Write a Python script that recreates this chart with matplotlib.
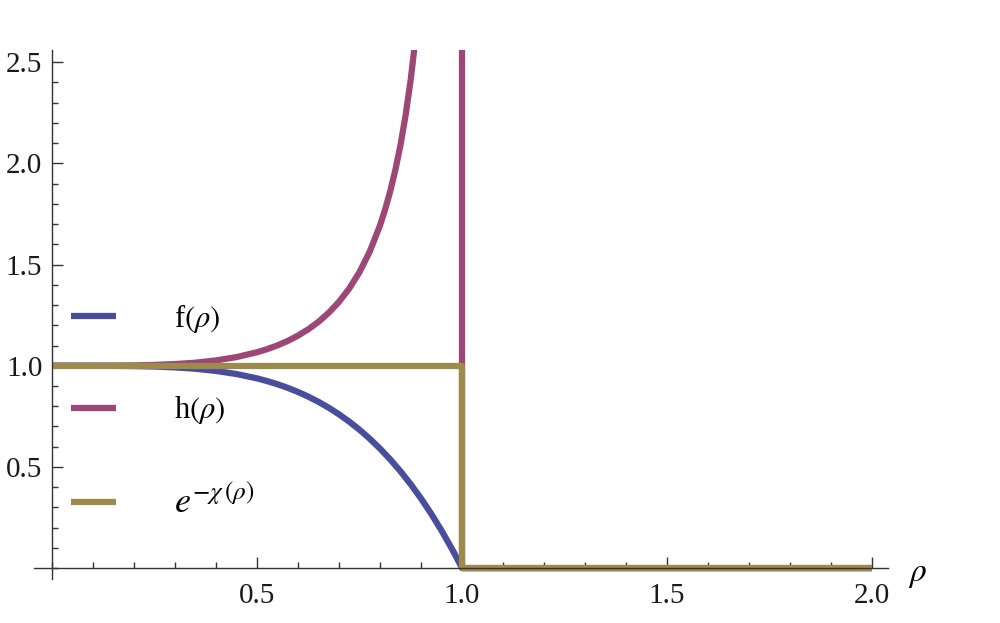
import matplotlib
matplotlib.use('Agg')
import matplotlib.pyplot as plt
from matplotlib.ticker import MultipleLocator

plt.rcParams['font.family'] = 'Liberation Serif'
plt.rcParams['mathtext.fontset'] = 'stix'

# f(rho)
rho_f = [0, 0.05, 0.1, 0.15, 0.2, 0.25, 0.3, 0.35, 0.4, 0.45, 0.5, 0.525, 0.55,
         0.575, 0.6, 0.625, 0.65, 0.675, 0.7, 0.725, 0.75, 0.775, 0.8, 0.825,
         0.85, 0.875, 0.9, 0.925, 0.95, 0.975, 0.9875, 1.0, 2.0]
f_vals = [1.0, 1.0, 0.9999, 0.9995, 0.9984, 0.9961, 0.9919, 0.985, 0.9744, 0.959,
          0.9375, 0.924, 0.9085, 0.8907, 0.8704, 0.8474, 0.8215, 0.7924, 0.7599,
          0.7237, 0.6836, 0.6392, 0.5904, 0.5367, 0.478, 0.4138, 0.3439, 0.2679,
          0.1855, 0.0963, 0.0491, 0.0, 0.0]

# h(rho), pink curve (blows up near rho = 1, then drops)
rho_h = [0, 0.05, 0.1, 0.15, 0.2, 0.25, 0.3, 0.35, 0.4, 0.45, 0.5, 0.525, 0.55,
         0.575, 0.6, 0.625, 0.65, 0.675, 0.7, 0.725, 0.75, 0.775, 0.8, 0.8125,
         0.825, 0.8375, 0.85, 0.8625, 0.875, 0.8875, 0.9, 0.95, 1.0, 1.0, 2.0]
h_vals = [1.0, 1.0, 1.0001, 1.0005, 1.0016, 1.0039, 1.0082, 1.0152, 1.0263, 1.0428,
          1.0667, 1.0822, 1.1007, 1.1227, 1.1489, 1.1801, 1.2173, 1.262, 1.316,
          1.3818, 1.4629, 1.5645, 1.6938, 1.7724, 1.8633, 1.9684, 2.092, 2.2391,
          2.4166, 2.6344, 2.9078, 5.39, 26.0, 0.0, 0.0]

# e^{-chi(rho)}, gold step
rho_e = [0, 1.0, 1.0, 2.0]
e_vals = [1.0, 1.0, 0.0, 0.0]

labels = [r'f$(\rho)$', r'h$(\rho)$', r'$e^{-\chi\,(\rho)}$']
colors = ['#4a4c9c', '#9c4776', '#9d8b4b']

fig = plt.figure(figsize=(10, 6.23), dpi=100)
ax = fig.add_axes([0.034, 0.0706, 0.854, 0.849])

lw = 4.5
ax.plot(rho_f, f_vals, color=colors[0], lw=lw, label=labels[0], solid_capstyle='butt')
ax.plot(rho_h, h_vals, color=colors[1], lw=lw, label=labels[1], solid_capstyle='butt')
ax.plot(rho_e, e_vals, color=colors[2], lw=lw, label=labels[2], solid_capstyle='butt')

ax.set_xlim(-0.044, 2.039)
ax.set_ylim(-0.054, 2.56)

for s in ['top', 'right']:
    ax.spines[s].set_visible(False)
for s in ['left', 'bottom']:
    ax.spines[s].set_position(('data', 0))
    ax.spines[s].set_color('#333333')
    ax.spines[s].set_linewidth(1.0)

ax.set_xticks([0.5, 1.0, 1.5, 2.0])
ax.set_yticks([0.5, 1.0, 1.5, 2.0, 2.5])
ax.xaxis.set_minor_locator(MultipleLocator(0.1))
ax.yaxis.set_minor_locator(MultipleLocator(0.1))
ax.tick_params(which='major', direction='in', length=8, width=1, color='#333333',
               labelsize=21, labelcolor='#1a1a1a')
ax.tick_params(which='minor', direction='in', length=4.5, width=1, color='#333333')
ax.tick_params(axis='x', which='major', pad=11)
ax.tick_params(axis='y', which='major', pad=7)

ax.set_xlabel(r'$\rho$', fontsize=24)
ax.xaxis.set_label_coords(1.035, 0.008)
ax.xaxis.label.set_va('center')

leg = ax.legend(loc='upper left', bbox_to_anchor=(0.011, 0.576), frameon=False,
                fontsize=22, handlelength=1.47, handletextpad=1.9, labelspacing=1.95)
leg.get_texts()[2].set_fontsize(26)

fig.savefig('out.png', dpi=100)
